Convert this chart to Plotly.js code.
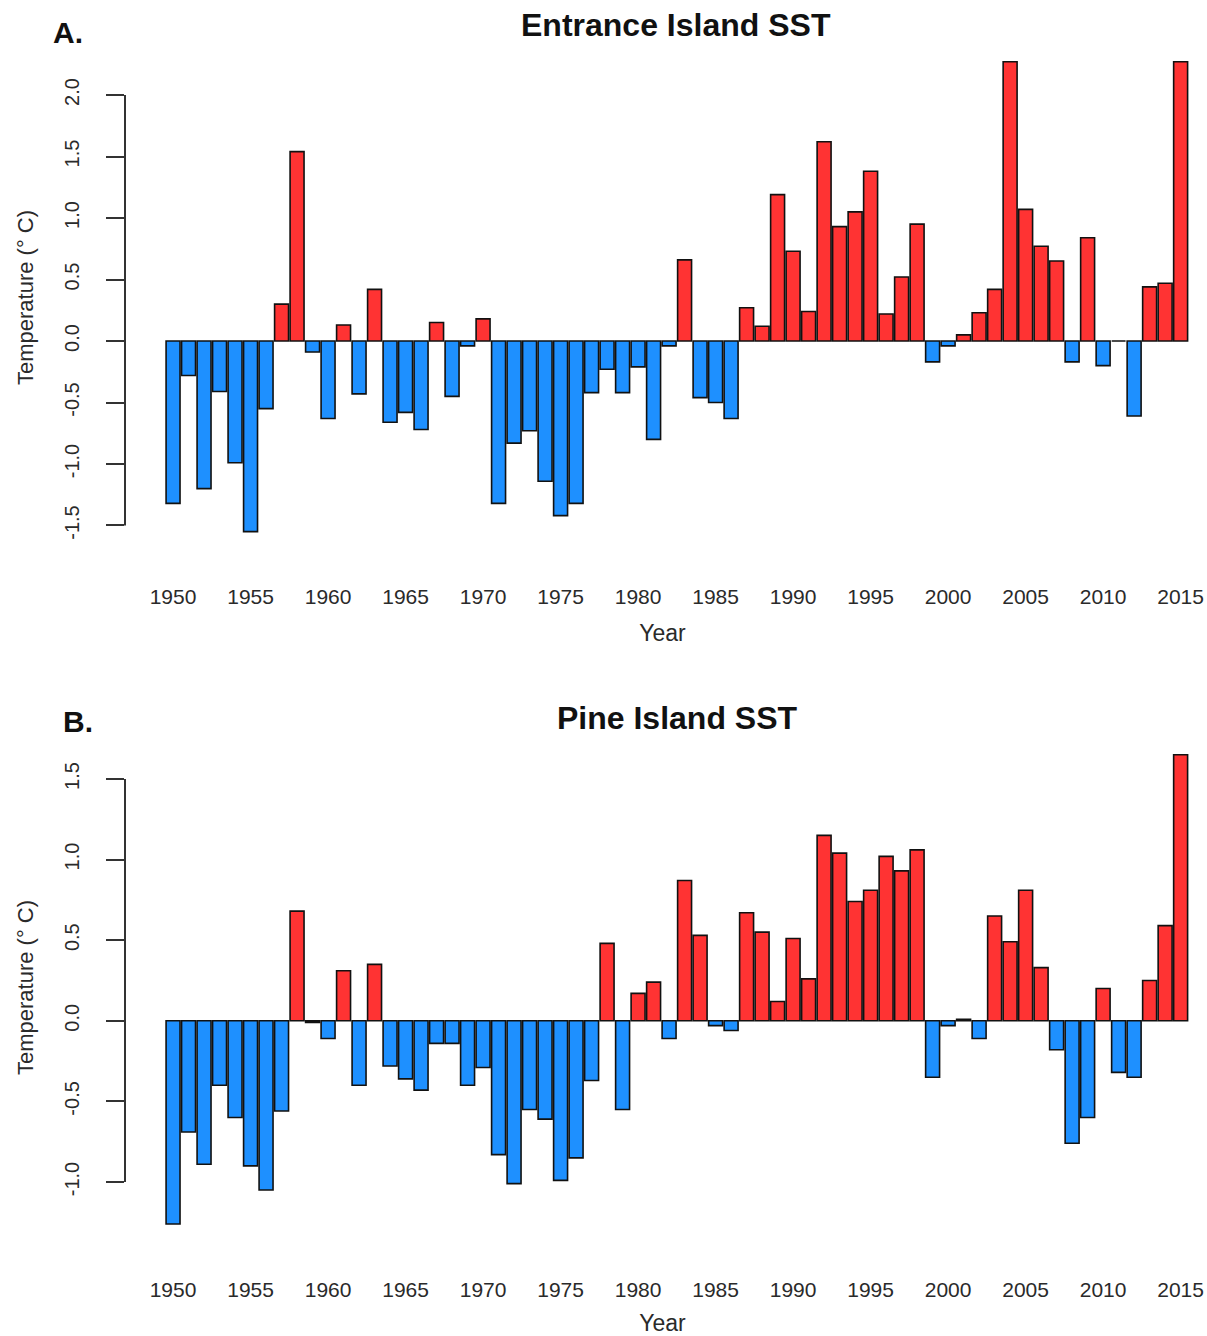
<!DOCTYPE html>
<html>
<head>
<meta charset="utf-8">
<script src="https://cdn.plot.ly/plotly-3.0.1.min.js"></script>
<style>html,body{margin:0;padding:0;background:#fff;}#chart{width:1207px;height:1336px;}</style>
</head>
<body>
<div id="chart"></div>
<script>
const years = [1950,1951,1952,1953,1954,1955,1956,1957,1958,1959,
  1960,1961,1962,1963,1964,1965,1966,1967,1968,1969,
  1970,1971,1972,1973,1974,1975,1976,1977,1978,1979,
  1980,1981,1982,1983,1984,1985,1986,1987,1988,1989,
  1990,1991,1992,1993,1994,1995,1996,1997,1998,1999,
  2000,2001,2002,2003,2004,2005,2006,2007,2008,2009,
  2010,2011,2012,2013,2014,2015];

const entranceSST = [-1.32,-0.28,-1.20,-0.41,-0.99,-1.55,-0.55,0.30,1.54,-0.09,
  -0.63,0.13,-0.43,0.42,-0.66,-0.58,-0.72,0.15,-0.45,-0.04,
  0.18,-1.32,-0.83,-0.73,-1.14,-1.42,-1.32,-0.42,-0.23,-0.42,
  -0.21,-0.80,-0.04,0.66,-0.46,-0.50,-0.63,0.27,0.12,1.19,
  0.73,0.24,1.62,0.93,1.05,1.38,0.22,0.52,0.95,-0.17,
  -0.04,0.05,0.23,0.42,2.27,1.07,0.77,0.65,-0.17,0.84,
  -0.20,0.00,-0.61,0.44,0.47,2.27];

const pineSST = [-1.26,-0.69,-0.89,-0.40,-0.60,-0.90,-1.05,-0.56,0.68,-0.01,
  -0.11,0.31,-0.40,0.35,-0.28,-0.36,-0.43,-0.14,-0.14,-0.40,
  -0.29,-0.83,-1.01,-0.55,-0.61,-0.99,-0.85,-0.37,0.48,-0.55,
  0.17,0.24,-0.11,0.87,0.53,-0.03,-0.06,0.67,0.55,0.12,
  0.51,0.26,1.15,1.04,0.74,0.81,1.02,0.93,1.06,-0.35,
  -0.03,0.01,-0.11,0.65,0.49,0.81,0.33,-0.18,-0.76,-0.60,
  0.20,-0.32,-0.35,0.25,0.59,1.65];

const yearTicks = [1950,1955,1960,1965,1970,1975,1980,1985,1990,1995,2000,2005,2010,2015];
const yearTickText = ['1950','1955','1960','1965','1970','1975','1980','1985','1990','1995','2000','2005','2010','2015'];
const entranceTicks = [-1.5,-1.0,-0.5,0.0,0.5,1.0,1.5,2.0];
const entranceTickText = ['-1.5','-1.0','-0.5','0.0','0.5','1.0','1.5','2.0'];
const pineTicks = [-1.0,-0.5,0.0,0.5,1.0,1.5];
const pineTickText = ['-1.0','-0.5','0.0','0.5','1.0','1.5'];

const RED = '#FF3333', BLUE = '#1E90FF';
const colorFor = v => v.map(d => d > 0 ? RED : BLUE);

const traces = [
  {type:'bar', x:years, y:entranceSST, xaxis:'x', yaxis:'y',
   marker:{color:colorFor(entranceSST), line:{color:'#111', width:1.6}}, hoverinfo:'x+y'},
  {type:'bar', x:years, y:pineSST, xaxis:'x2', yaxis:'y2',
   marker:{color:colorFor(pineSST), line:{color:'#111', width:1.6}}, hoverinfo:'x+y'}
];

const FONT = 'Liberation Sans, Arial, sans-serif';
const xTickFont = {family:FONT, size:21, color:'#2a2a2a'};
const yTickFont = {family:FONT, size:20, color:'#2a2a2a'};

function xAxis(pos){
  return {range:[1946.9, 2016.25], anchor:'free', position:pos,
    showline:false, showgrid:false, zeroline:false, ticks:'',
    tickmode:'array', tickvals:yearTicks, ticktext:yearTickText, tickfont:xTickFont,
    title:{text:'Year', font:{family:FONT, size:23, color:'#2a2a2a'}, standoff:18}};
}
function yAxis(dom, rng, tv, tt, anchor){
  return {domain:dom, range:rng, anchor:anchor,
    showline:false, showgrid:false, zeroline:false,
    ticks:'outside', ticklen:18, tickwidth:2, tickcolor:'#333',
    tickmode:'array', tickvals:tv, ticktext:tt, tickangle:-90, tickfont:yTickFont,
    ticklabelstandoff:19,
    title:{text:'Temperature (° C)', font:{family:FONT, size:22, color:'#2a2a2a'}, standoff:21}};
}

const layout = {
  width:1207, height:1336,
  margin:{l:125, r:7, t:0, b:0},
  paper_bgcolor:'#fff', plot_bgcolor:'#fff',
  showlegend:false, bargap:0.1,
  font:{family:FONT, color:'#222'},
  xaxis: xAxis(0.5645),
  yaxis: yAxis([0.5958, 0.9588], [-1.618, 2.325], entranceTicks, entranceTickText, 'x'),
  xaxis2: xAxis(0.0458),
  yaxis2: yAxis([0.0793, 0.4424], [-1.298, 1.711], pineTicks, pineTickText, 'x2'),
  shapes:[
    {type:'line', xref:'paper', yref:'y', x0:0, x1:0, y0:-1.5, y1:2.0, line:{color:'#333', width:2}},
    {type:'line', xref:'paper', yref:'y2', x0:0, x1:0, y0:-1.0, y1:1.5, line:{color:'#333', width:2}}
  ],
  annotations:[
    {text:'Entrance Island SST', xref:'paper', yref:'paper', x:0.5126, y:0.9813, xanchor:'center', yanchor:'middle', showarrow:false,
     font:{family:FONT, size:32, weight:'bold', color:'#111'}},
    {text:'A.', xref:'paper', yref:'paper', x:-0.053, y:0.976, xanchor:'center', yanchor:'middle', showarrow:false,
     font:{family:FONT, size:30, weight:'bold', color:'#111'}},
    {text:'Pine Island SST', xref:'paper', yref:'paper', x:0.514, y:0.4626, xanchor:'center', yanchor:'middle', showarrow:false,
     font:{family:FONT, size:32, weight:'bold', color:'#111'}},
    {text:'B.', xref:'paper', yref:'paper', x:-0.0437, y:0.4596, xanchor:'center', yanchor:'middle', showarrow:false,
     font:{family:FONT, size:30, weight:'bold', color:'#111'}}
  ]
};

Plotly.newPlot('chart', traces, layout, {staticPlot:true, displayModeBar:false});
</script>
</body>
</html>
